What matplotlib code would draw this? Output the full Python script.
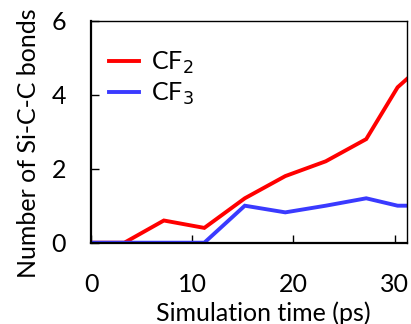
import matplotlib
matplotlib.use("Agg")
import matplotlib.pyplot as plt

time_cf2 = [0, 3.3, 7.2, 11.2, 15.2, 19.2, 23.2, 27.2, 30.3, 31.2]
cf2 = [0, 0, 0.6, 0.4, 1.2, 1.8, 2.2, 2.8, 4.2, 4.42]
time_cf3 = [0, 11.2, 15.2, 19.2, 23.2, 27.2, 30.3, 31.2]
cf3 = [0, 0, 1.0, 0.82, 1.0, 1.2, 1.0, 1.0]
xticks = [0, 10, 20, 30]
yticks = [0, 2, 4, 6]

plt.rcParams['font.family'] = ['Lato', 'DejaVu Sans']
fig = plt.figure(figsize=(4.11, 3.24), dpi=100)
ax = fig.add_axes([91/411, 1-242.7/324, (406.7-91)/411, (242.7-20.7)/324])
ax.plot(time_cf2, cf2, color='#ff0000', lw=2.8, label='CF$_2$', solid_joinstyle='miter')
ax.plot(time_cf3, cf3, color='#3a3aff', lw=2.8, label='CF$_3$', solid_joinstyle='miter')
ax.set_xlim(0, 31.2)
ax.set_ylim(0, 6)
ax.set_xticks(xticks)
ax.set_yticks(yticks)
ax.tick_params(direction='in', length=6, width=1, labelsize=18)
ax.tick_params(axis='y', pad=18)
ax.tick_params(axis='x', pad=22)
for s in ['left', 'bottom']:
    ax.spines[s].set_linewidth(1.6)
for s in ['top', 'right']:
    ax.spines[s].set_linewidth(1.0)
ax.set_xlabel('Simulation time (ps)', fontsize=18)
ax.xaxis.set_label_coords(0.546, -0.265)
ax.set_ylabel('Number of Si-C-C bonds', fontsize=18)
ax.yaxis.set_label_coords(-0.16, 0.45)
leg = ax.legend(loc='upper left', bbox_to_anchor=(0.025, 0.915), frameon=False, fontsize=18,
                handlelength=1.2, handletextpad=0.5, labelspacing=0.2, borderaxespad=0)
fig.savefig('out.png', dpi=100)
